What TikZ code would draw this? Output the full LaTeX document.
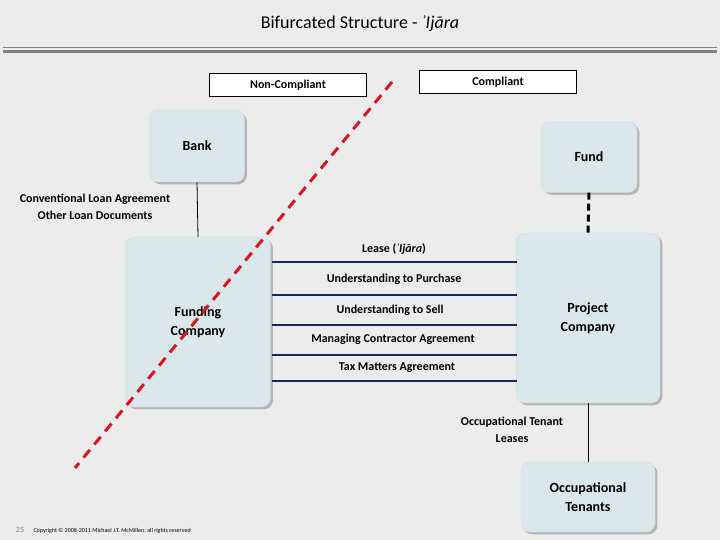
\documentclass[tikz,border=0pt]{standalone}
\usepackage{fontspec}
\setmainfont{Carlito}
\definecolor{boxfill}{RGB}{218,232,236}
\definecolor{bgcol}{RGB}{236,236,236}
\definecolor{navy}{RGB}{23,40,90}
\definecolor{dashred}{RGB}{220,20,30}
\tikzset{
  party/.style={draw=white!70!gray,fill=boxfill,rounded corners=9pt,font=\fontsize{14}{19}\selectfont\bfseries,align=center,drop shadow},
  side/.style={draw=black,fill=white,font=\fontsize{12}{14}\selectfont\bfseries,minimum width=157pt,minimum height=23pt},
  doc/.style={font=\fontsize{12}{17}\selectfont\bfseries,align=center},
  deal/.style={navy,line width=2pt}
}
\usetikzlibrary{shadows}
\begin{document}
\begin{tikzpicture}[x=1pt,y=-1pt]
  \fill[bgcol] (0,0) rectangle (720,540);
  \useasboundingbox (0,0) rectangle (720,540);
  \node[font=\fontsize{18}{20}\selectfont] (title) at (360,24) {Bifurcated Structure - \textit{ʾIjāra}};
  \fill[gray] (3,47) rectangle (717,53);
  \fill[white!85!gray] (3,48) rectangle (717,50);

  \node[side] (noncomp) at (288,85) {Non-Compliant};
  \node[side] (comp) at (498,82) {Compliant};

  \node[party,minimum width=95pt,minimum height=72pt] (bank) at (197,146) {Bank};
  \node[party,minimum width=96pt,minimum height=71pt] (fund) at (589,157) {Fund};
  \node[party,minimum width=145pt,minimum height=170pt] (funding) at (198,322) {Funding\\Company};
  \node[party,minimum width=144pt,minimum height=170pt] (project) at (588,318) {Project\\Company};
  \node[party,minimum width=134pt,minimum height=70pt] (tenants) at (588,497) {Occupational\\Tenants};

  % bank to funding company
  \draw[thick] (bank.south) -- (funding.north);
  \node[doc] (loan) at (95,207) {Conventional Loan Agreement\\Other Loan Documents};
  % fund to project company
  \draw[black,line width=3pt,dash pattern=on 7pt off 4pt] (fund.south) -- (project.north);
  % project company to tenants
  \draw[thick] (project.south) -- (tenants.north);
  \node[doc] (leases) at (512,430) {Occupational Tenant\\Leases};

  % agreements
  \foreach \y/\name in {262/a,295/b,325/c,355/d,381/e}{
    \coordinate (\name l) at (272,\y);
    \coordinate (\name r) at (517,\y);
    \draw[deal] (\name l) -- (\name r);
  }
  \node[doc] (lease) at (394,249) {Lease (\textit{ʾIjāra})};
  \node[doc] (purchase) at (394,279) {Understanding to Purchase};
  \node[doc] (sell) at (390,310) {Understanding to Sell};
  \node[doc] (manage) at (393,339) {Managing Contractor Agreement};
  \node[doc] (tax) at (397,368) {Tax Matters Agreement};

  % divide line
  \coordinate (cuttop) at (392,82);
  \coordinate (cutbot) at (75,468);
  \draw[dashred,line width=3pt,dash pattern=on 10pt off 7pt] (cuttop) -- (cutbot);

  \node[font=\fontsize{8}{9}\selectfont,gray] (page) at (20,530) {25};
  \node[font=\fontsize{6}{7}\selectfont,anchor=west] (copy) at (30,531) {Copyright © 2008-2011 Michael J.T. McMillen; all rights reserved};
\end{tikzpicture}
\end{document}
